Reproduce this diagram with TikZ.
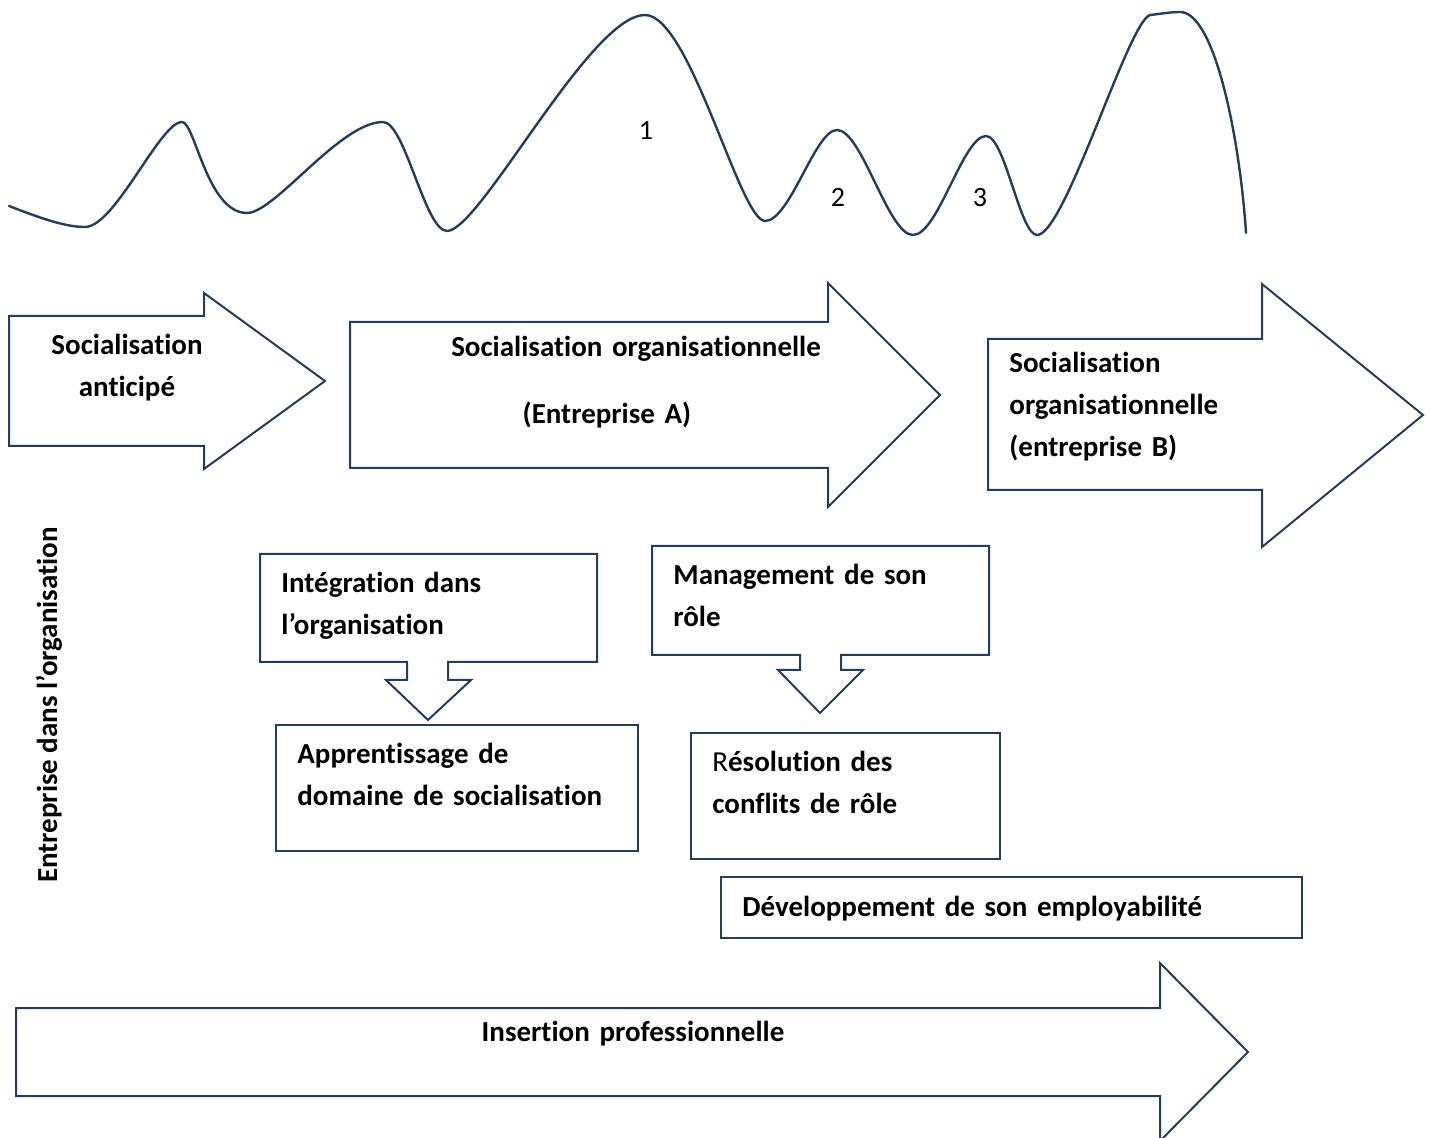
\documentclass[tikz,border=0pt]{standalone}
\usepackage{fontspec}
\setmainfont{Carlito}[Ligatures=NoCommon]
\usepackage{xcolor}
\usepackage{tikz}
\definecolor{navy}{HTML}{233C5F}

\begin{document}
\begin{tikzpicture}[x=0.5pt, y=-0.5pt,
    outline/.style={draw=navy, line width=1pt, line join=miter, fill=white},
    wave/.style={draw=navy, line width=1.2pt, line cap=round, line join=round},
    lbl/.style={font=\fontsize{14.5}{21}\selectfont\bfseries, inner sep=0pt, align=left, text width=220pt, anchor=base west},
    ctr/.style={font=\fontsize{14.5}{21}\selectfont\bfseries, inner sep=0pt, align=center, text width=110pt, anchor=base},
    num/.style={font=\fontsize{14}{21}\selectfont, inner sep=0pt, anchor=base}]
    \useasboundingbox (0,0) rectangle (1430,1138);

    \draw[wave] (9,206) .. controls (40,218) and (65,227) .. (85,227)
        .. controls (115,227) and (160,122) .. (182,122)
        .. controls (195,122) and (207,213) .. (247,213)
        .. controls (275,213) and (340,122) .. (383,122)
        .. controls (405,122) and (425,231) .. (447,231)
        .. controls (480,231) and (590,15) .. (645,15)
        .. controls (690,15) and (740,221) .. (765,221)
        .. controls (790,221) and (815,130) .. (837,130)
        .. controls (862,130) and (888,235) .. (913,235)
        .. controls (938,235) and (963,136) .. (986,136)
        .. controls (1005,136) and (1020,235) .. (1037,235)
        .. controls (1065,235) and (1128,22) .. (1150,15)
        .. controls (1160,14) and (1170,12) .. (1180,12)
        .. controls (1215,12) and (1240,140) .. (1246,233);
    \node[num] (n1) at (646,140) {1};
    \node[num] (n2) at (838,207) {2};
    \node[num] (n3) at (980,207) {3};

    \draw[outline] (9,316) -- (204,316) -- (204,293) -- (325,381) -- (204,469) -- (204,446) -- (9,446) -- cycle;
    \draw[outline] (350,322) -- (828,322) -- (828,283) -- (940,395) -- (828,507) -- (828,468) -- (350,468) -- cycle;
    \draw[outline] (988,339) -- (1262,339) -- (1262,284) -- (1423,415) -- (1262,547) -- (1262,490) -- (988,490) -- cycle;
    \draw[outline] (16,1008) -- (1160,1008) -- (1160,963) -- (1248,1052) -- (1160,1141) -- (1160,1096) -- (16,1096) -- cycle;

    \node[ctr] (anticipe) at (127,355) {Socialisation\\anticipé};
    \node[ctr, text width=220pt] (orgA) at (636,357) {Socialisation organisationnelle};
    \node[ctr] (entA) at (607,424) {(Entreprise A)};
    \node[lbl] (orgB) at (1009,373) {Socialisation\\organisationnelle\\(entreprise B)};
    \node[ctr, text width=250pt] (insert) at (633,1041) {Insertion professionnelle};

    \draw[outline] (260,554) -- (597,554) -- (597,662) -- (448,662) -- (448,680) -- (471,680) -- (428,720)
        -- (386,680) -- (407,680) -- (407,662) -- (260,662) -- cycle;
    \draw[outline] (652,546) -- (989,546) -- (989,655) -- (841,655) -- (841,670) -- (863,670) -- (820,713)
        -- (778,670) -- (800,670) -- (800,655) -- (652,655) -- cycle;
    \draw[outline] (276,725) rectangle (638,851);
    \draw[outline] (691,733) rectangle (1000,859);
    \draw[outline] (721,877) rectangle (1302,938);

    \node[lbl] (integ) at (281,593) {Intégration dans\\l’organisation};
    \node[lbl] (manag) at (673,585) {Management de son\\rôle};
    \node[lbl] (appr) at (297,763) {Apprentissage de\\domaine de socialisation};
    \node[lbl] (resol) at (712,771) {{\mdseries R}ésolution des\\conflits de rôle};
    \node[lbl, text width=300pt] (devemp) at (742,916) {Développement de son employabilité};

    \node[font=\fontsize{14.5}{21}\selectfont\bfseries, inner sep=0pt, rotate=90] (entorg) at (49,705) {Entreprise dans l’organisation};
\end{tikzpicture}
\end{document}
